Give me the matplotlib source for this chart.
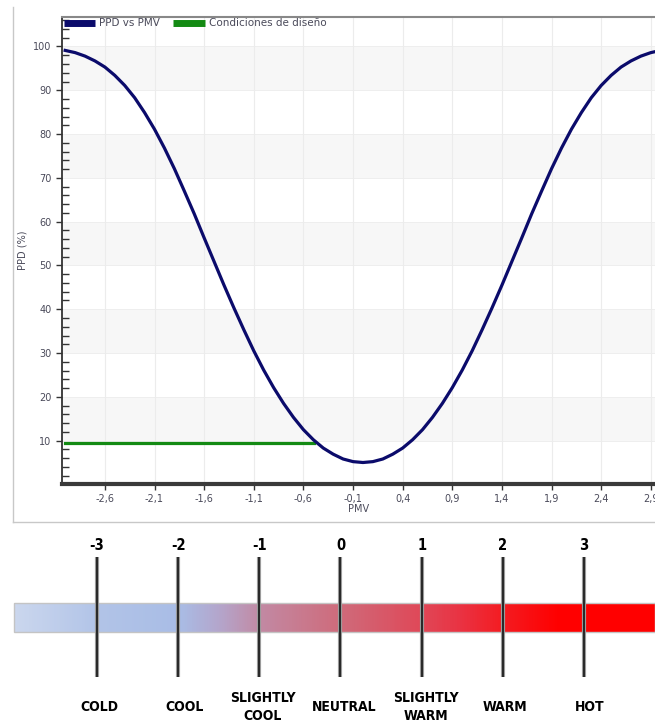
import numpy as np
import matplotlib
matplotlib.use("Agg")
import matplotlib.pyplot as plt
from matplotlib.colors import LinearSegmentedColormap
from matplotlib.ticker import FixedLocator

# PPD vs PMV curve
pmv = [-3.0, -2.9, -2.8, -2.7, -2.6, -2.5, -2.4, -2.3, -2.2, -2.1,
       -2.0, -1.9, -1.8, -1.7, -1.6, -1.5, -1.4, -1.3, -1.2, -1.1,
       -1.0, -0.9, -0.8, -0.7, -0.6, -0.5, -0.4, -0.3, -0.2, -0.1,
       0.0, 0.1, 0.2, 0.3, 0.4, 0.5, 0.6, 0.7, 0.8, 0.9,
       1.0, 1.1, 1.2, 1.3, 1.4, 1.5, 1.6, 1.7, 1.8, 1.9,
       2.0, 2.1, 2.2, 2.3, 2.4, 2.5, 2.6, 2.7, 2.8, 2.9, 3.0]
ppd = [99.1, 98.6, 97.8, 96.7, 95.3, 93.4, 91.1, 88.3, 84.9, 81.1,
       76.8, 72.1, 67.0, 61.8, 56.3, 50.9, 45.5, 40.3, 35.3, 30.5,
       26.1, 22.1, 18.5, 15.3, 12.5, 10.2, 8.3, 6.9, 5.8, 5.2,
       5.0, 5.2, 5.8, 6.9, 8.3, 10.2, 12.5, 15.3, 18.5, 22.1,
       26.1, 30.5, 35.3, 40.3, 45.5, 50.9, 56.3, 61.8, 67.0, 72.1,
       76.8, 81.1, 84.9, 88.3, 91.1, 93.4, 95.3, 96.7, 97.8, 98.6, 99.1]

# design conditions line
design_pmv = [-3.0, -0.49]
design_ppd = [9.4, 9.4]

x_ticks = [-2.6, -2.1, -1.6, -1.1, -0.6, -0.1, 0.4, 0.9, 1.4, 1.9, 2.4, 2.9]
y_ticks = [10, 20, 30, 40, 50, 60, 70, 80, 90, 100]
bands = [(10, 20), (30, 40), (50, 60), (70, 80), (90, 100)]

# thermal sensation scale
scale_vals = [-3, -2, -1, 0, 1, 2, 3]
scale_words = ["COLD", "COOL", "SLIGHTLY\nCOOL", "NEUTRAL", "SLIGHTLY\nWARM", "WARM", "HOT"]
word_pos = [-2.97, -1.92, -0.96, 0.04, 1.05, 2.03, 3.07]
grad_vals = [-4.02, -3.0, -2.0, -1.5, -1.0, 0.0, 1.0, 1.5, 2.0, 2.7, 3.875]
grad_cols = ["#cbd7ee", "#b2c4e8", "#a9bde6", "#b4a6cc", "#c28aa4", "#cf6b7b",
             "#e04858", "#ea3242", "#f41c22", "#ff0000", "#ff0000"]

W, H = 655, 720
fig = plt.figure(figsize=(W / 100, H / 100), dpi=100)

# outer frame of the chart widget
fig.add_artist(plt.Line2D([13 / W, 13 / W], [1 - 7 / H, 1 - 522 / H], color="#c8c8c8", lw=1))
fig.add_artist(plt.Line2D([13 / W, 1], [1 - 522 / H, 1 - 522 / H], color="#c8c8c8", lw=1))

ax = fig.add_axes([62 / W, 1 - 484.4 / H, 1 - 62 / W, (484.4 - 16.7) / H])
ax.set_xlim(-3.032, 2.942)
ax.set_ylim(0, 106.8)

for lo, hi in bands:
    ax.axhspan(lo, hi, facecolor="#f7f7f7", edgecolor="#ececec", lw=0.6, zorder=0)
for xt in x_ticks:
    ax.axvline(xt, color="#ececec", lw=0.8, zorder=0.5)

ax.plot(pmv, ppd, color="#0b0b6b", lw=2.3, label="PPD vs PMV", zorder=3)
ax.plot(design_pmv, design_ppd, color="#138a13", lw=2.3, label="Condiciones de diseño", zorder=2)

ax.set_xticks(x_ticks)
ax.set_xticklabels([f"{v:.1f}".replace(".", ",") for v in x_ticks])
ax.set_yticks(y_ticks)
ax.set_yticklabels([str(v) for v in y_ticks])
ax.yaxis.set_minor_locator(FixedLocator([v for v in range(2, 107, 2) if v % 10 != 0]))
ax.tick_params(axis="both", which="major", labelsize=7, labelcolor="#4a4a5a",
               color="#333333", direction="out", length=4, width=1)
ax.tick_params(axis="y", which="minor", direction="in", length=5, width=1, color="#333333")
ax.tick_params(axis="x", which="major", pad=3)

ax.spines["right"].set_visible(False)
ax.spines["top"].set_color("#888888")
ax.spines["top"].set_linewidth(1.5)
ax.spines["left"].set_color("#333333")
ax.spines["left"].set_linewidth(1.3)
ax.spines["bottom"].set_color("#3a3a3a")
ax.spines["bottom"].set_linewidth(3)

ax.set_xlabel("PMV", fontsize=7, color="#4a4a5a", labelpad=0)
ax.set_ylabel("PPD (%)", fontsize=7, color="#4a4a5a", labelpad=4)

leg = ax.legend(loc="upper left", ncol=2, frameon=False, fontsize=7.5,
                handlelength=3.0, columnspacing=1.3, handletextpad=0.4,
                borderaxespad=0.0, borderpad=0.15)
for h in leg.get_lines():
    h.set_linewidth(5)
    h.set_solid_capstyle("butt")
for t in leg.get_texts():
    t.set_color("#4a4a5a")

# bottom scale, data y is in pixel units
axb = fig.add_axes([0, 0, 1, 195 / H])
axb.axis("off")

span = grad_vals[-1] - grad_vals[0]
cmap = LinearSegmentedColormap.from_list(
    "thermal", [((v - grad_vals[0]) / span, c) for v, c in zip(grad_vals, grad_cols)])
axb.imshow(np.linspace(0, 1, 800).reshape(1, -1), cmap=cmap, aspect="auto",
           extent=(grad_vals[0], grad_vals[-1], 632, 603), zorder=1)
axb.add_patch(plt.Rectangle((grad_vals[0], 603), span, 29, fill=False,
                            edgecolor="#c4c4c4", lw=1, zorder=2))
axb.set_xlim(-4.195, 3.875)
axb.set_ylim(720, 525)

font = ["Liberation Sans Narrow", "DejaVu Sans"]
for v in scale_vals:
    axb.plot([v, v], [557, 677], color="#a0a0a0", lw=3, zorder=3, solid_capstyle="butt")
    axb.plot([v, v], [557, 677], color="#2a2a2a", lw=1.5, zorder=4, solid_capstyle="butt")
    axb.text(v, 545, str(v), ha="center", va="center", fontsize=10.5,
             fontweight="bold", family=font, fontstretch="condensed")
for w, xp in zip(scale_words, word_pos):
    axb.text(xp, 707, w, ha="center", va="center", fontsize=10,
             fontweight="bold", family=font, fontstretch="condensed", linespacing=1.35)

fig.savefig("out.png", dpi=100)
